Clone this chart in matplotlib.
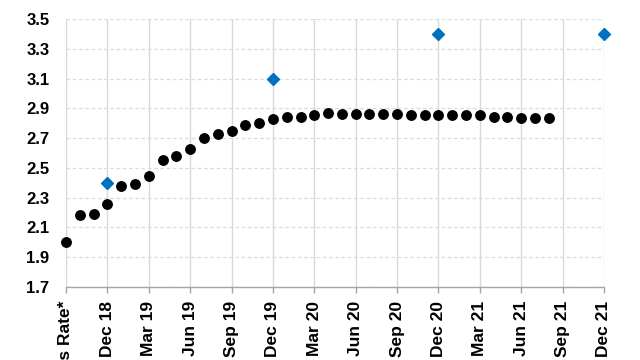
import matplotlib
matplotlib.use("Agg")
import matplotlib.pyplot as plt

plt.rcParams['font.family'] = ['Liberation Sans', 'DejaVu Sans']

# Category axis: first slot is the current rate, then monthly Oct 18 .. Dec 21
months = ["Oct 18", "Nov 18", "Dec 18"] + [f"{m} {y}" for y in ("19", "20", "21") for m in
          ("Jan", "Feb", "Mar", "Apr", "May", "Jun", "Jul", "Aug", "Sep", "Oct", "Nov", "Dec")]
categories = ["Fed Funds Rate*"] + months

# Market-implied path (black dots), one per category from the start
market_path = [2.00, 2.18, 2.19, 2.26, 2.38, 2.39, 2.445, 2.55, 2.58, 2.63,
               2.70, 2.725, 2.75, 2.79, 2.80, 2.83, 2.845, 2.845, 2.855, 2.872,
               2.865, 2.865, 2.865, 2.865, 2.865, 2.855, 2.855, 2.855, 2.855, 2.855,
               2.855, 2.845, 2.845, 2.838, 2.838, 2.838]

# FOMC median projections (blue diamonds)
dots_labels = ["Dec 18", "Dec 19", "Dec 20", "Dec 21"]
dots_values = [2.40, 3.10, 3.40, 3.40]

tick_labels = ["Fed Funds Rate*", "Dec 18", "Mar 19", "Jun 19", "Sep 19", "Dec 19",
               "Mar 20", "Jun 20", "Sep 20", "Dec 20", "Mar 21", "Jun 21", "Sep 21", "Dec 21"]

fig = plt.figure(figsize=(6.4, 3.6), dpi=100)
ax = fig.add_axes([66/640, 1-286.7/360, (604-66)/640, (286.7-19.3)/360])

x_market = list(range(len(market_path)))
ax.plot(x_market, market_path, linestyle='none', marker='o', ms=6.8,
        color='black', clip_on=False, zorder=3)

x_dots = [categories.index(l) for l in dots_labels]
ax.plot(x_dots, dots_values, linestyle='none', marker='D', ms=6.6,
        color='#0070C0', clip_on=False, zorder=3)

ax.set_xlim(0, len(categories) - 1)
ax.set_ylim(1.7, 3.5)
ax.set_yticks([1.7 + 0.2*i for i in range(10)])
ax.set_yticklabels([f"{1.7 + 0.2*i:.1f}" for i in range(10)], fontsize=12, fontweight='bold')

tick_pos = [categories.index(l) for l in tick_labels]
ax.set_xticks(tick_pos)
ax.set_xticklabels(tick_labels, rotation=90, fontsize=12.5, fontweight='bold')

ax.tick_params(axis='y', length=0, pad=12)
ax.tick_params(axis='x', length=4, width=1, color='#a6a6a6', pad=6, direction='out')

for s in ('top', 'right', 'left'):
    ax.spines[s].set_visible(False)
ax.spines['bottom'].set_color('#a6a6a6')
ax.spines['bottom'].set_linewidth(1.0)

ax.xaxis.grid(True, color='#d9d9d9', linewidth=1.0, linestyle='-')
ax.yaxis.grid(True, color='#dcdcdc', linewidth=0.9, linestyle=(0, (3, 2)))
ax.set_axisbelow(True)

fig.savefig("out.png", dpi=100)
